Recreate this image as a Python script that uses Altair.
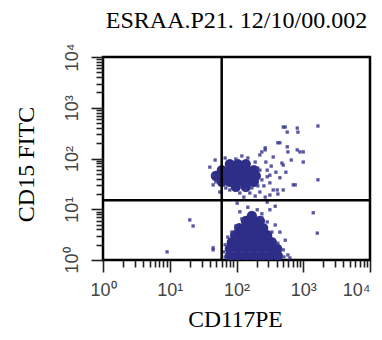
import altair as alt
import pandas as pd
import numpy as np

title_text = "ESRAA.P21. 12/10/00.002"
x_title = "CD117PE"
y_title = "CD15 FITC"
decade_values = [1, 10, 100, 1000, 10000]
tick_labels = ["10⁰", "10¹", "10²", "10³", "10⁴"]
gate_x = 60
gate_y = 15

# dense cores of the two populations (log10 of intensity)
core_x_log = [
    1.90, 2.02, 2.14, 2.26, 2.38, 2.50, 2.62,
    1.90, 2.02, 2.14, 2.26, 2.38, 2.50, 2.61,
    1.93, 2.05, 2.17, 2.29, 2.41, 2.53,
    1.98, 2.10, 2.22, 2.34, 2.46,
    2.04, 2.16, 2.28, 2.40,
    2.14, 2.26, 2.35,
    2.23,
    1.90, 2.02, 2.14,
    1.78, 1.90, 2.02, 2.14, 2.26,
    1.69, 1.81, 1.93, 2.05, 2.17, 2.29,
    1.78, 1.90, 2.02, 2.14, 2.26,
    1.99, 2.14,
]
core_y_log = [
    0.08, 0.08, 0.08, 0.08, 0.08, 0.08, 0.08,
    0.22, 0.22, 0.22, 0.22, 0.22, 0.22, 0.22,
    0.35, 0.35, 0.35, 0.35, 0.35, 0.35,
    0.49, 0.49, 0.49, 0.49, 0.49,
    0.63, 0.63, 0.63, 0.63,
    0.77, 0.77, 0.77,
    0.87,
    1.89, 1.89, 1.89,
    1.77, 1.77, 1.77, 1.77, 1.77,
    1.66, 1.66, 1.66, 1.66, 1.66, 1.66,
    1.54, 1.54, 1.54, 1.54, 1.54,
    1.44, 1.44,
]

# sparse events (log10 of intensity)
event_x_log = [
    2.70, 2.76, 2.91, 3.22, 2.62, 2.76, 2.91, 3.00, 2.43, 2.35,
    2.55, 3.00, 2.70, 2.46, 2.50, 3.22, 2.85, 2.61, 2.70, 1.60,
    1.65, 1.90, 2.05, 2.20, 2.35, 2.50, 2.38, 2.43, 2.65, 2.77,
    2.95, 2.73, 2.92, 2.68, 2.35, 2.46, 2.50, 2.55, 1.65, 2.88,
    1.68, 1.83, 2.17, 2.28, 2.32, 2.38, 2.32, 1.69, 1.84, 2.13,
    2.23, 2.41, 1.99, 2.08, 2.44, 2.52, 2.59, 2.65, 2.74, 2.82,
    1.75, 2.28, 2.43, 2.62, 2.11,
    2.01, 2.31, 2.46, 2.50, 3.15, 3.21, 2.17, 2.38, 2.05, 2.58,
    2.46, 2.53, 2.62, 2.77, 1.65, 1.87, 1.83, 1.81, 2.70, 2.73,
    2.65, 2.58, 1.99, 2.08, 2.38, 2.80, 1.93, 2.71, 1.83,
    1.30, 1.35, 0.96, 1.65,
]
event_y_log = [
    2.62, 2.52, 2.60, 2.64, 2.31, 2.23, 2.17, 2.13, 2.17, 2.07,
    2.03, 1.93, 1.87, 1.77, 1.67, 1.58, 1.48, 1.38, 1.38, 1.83,
    1.67, 1.38, 1.32, 1.32, 1.34, 1.28, 2.13, 2.21, 2.31, 2.13,
    2.13, 2.62, 2.52, 1.91, 1.77, 1.64, 1.52, 1.38, 1.48, 1.48,
    1.97, 2.01, 2.01, 1.93, 1.81, 1.58, 1.46, 1.54, 1.42, 1.38,
    1.42, 1.46, 1.99, 2.05, 1.93, 1.85, 1.73, 1.62, 1.73, 1.97,
    1.34, 1.26, 1.24, 1.30, 1.24,
    1.12, 0.99, 1.14, 0.99, 0.93, 0.53, 1.04, 0.91, 0.95, 1.06,
    0.75, 0.55, 0.33, 0.10, 0.24, 0.45, 0.30, 0.16, 0.20, 0.39,
    0.55, 0.69, 0.67, 0.81, 0.83, 0.04, 0.55, 0.06, 0.06,
    0.79, 0.67, 0.16, 0.20,
]

core = pd.DataFrame({"x": 10 ** np.array(core_x_log), "y": 10 ** np.array(core_y_log)})
events = pd.DataFrame({"x": 10 ** np.array(event_x_log), "y": 10 ** np.array(event_y_log)})

tick_values = [m * d for d in decade_values[:-1] for m in range(1, 10)] + [decade_values[-1]]
label_expr = " : ".join(
    f"datum.value == {v} ? '{lab}'" for v, lab in zip(decade_values, tick_labels)
) + " : ''"
last_label_align = {
    "condition": {"test": f"datum.value == {decade_values[-1]}", "value": "right"},
    "value": "center",
}
major_test = "indexof([" + ",".join(str(v) for v in decade_values) + "], datum.value) >= 0"
tick_size = {"condition": {"test": major_test, "value": 12}, "value": 7}

x_scale = alt.Scale(type="log", domain=[1, 10000], nice=False)
y_scale = alt.Scale(type="log", domain=[1, 10000], nice=False)

common_axis = dict(
    values=tick_values,
    labelExpr=label_expr,
    labelOverlap=False,
    labelFont="Liberation Sans",
    labelFontSize=18,
    labelColor="#444444",
    domain=False,
    grid=False,
    ticks=True,
    tickColor="#222222",
    tickWidth=1.6,
    tickSize=tick_size,
    titleFont="Liberation Serif",
    titleFontWeight="normal",
    titleColor="black",
)

x_axis = alt.Axis(
    orient="bottom",
    labelBaseline="top",
    labelAlign=last_label_align,
    labelPadding=9,
    labelFlush=False,
    title=x_title,
    titleFontSize=23.5,
    titleX=132,
    titleY=66,
    titleAlign="center",
    titleBaseline="alphabetic",
    **common_axis,
)
y_axis = alt.Axis(
    orient="left",
    labelAngle=270,
    labelAlign="center",
    labelBaseline="alphabetic",
    labelPadding=14,
    labelFlush=False,
    title=y_title,
    titleFontSize=24,
    titleAngle=270,
    titleX=-70,
    titleY=107,
    titleAlign="center",
    titleBaseline="alphabetic",
    **common_axis,
)

core_layer = alt.Chart(core).mark_circle(size=105, color="#2e2e88", opacity=1, clip=True).encode(
    x=alt.X("x:Q", scale=x_scale, axis=x_axis),
    y=alt.Y("y:Q", scale=y_scale, axis=y_axis),
)
event_layer = alt.Chart(events).mark_square(size=11, color="#3a3a92", opacity=0.85, clip=True).encode(
    x=alt.X("x:Q", scale=x_scale, axis=x_axis),
    y=alt.Y("y:Q", scale=y_scale, axis=y_axis),
)
vgate = alt.Chart(pd.DataFrame({"x": [gate_x]})).mark_rule(color="black", strokeWidth=2.5).encode(
    x=alt.X("x:Q", scale=x_scale, axis=x_axis)
)
hgate = alt.Chart(pd.DataFrame({"y": [gate_y]})).mark_rule(color="black", strokeWidth=2.5).encode(
    y=alt.Y("y:Q", scale=y_scale, axis=y_axis)
)

chart = (
    alt.layer(core_layer, event_layer, vgate, hgate)
    .properties(
        width=267,
        height=203,
        padding={"left": 95, "top": 49, "right": 4, "bottom": 72},
        autosize=alt.AutoSizeParams(type="none"),
        background="white",
        title=alt.TitleParams(
            text=title_text,
            font="Liberation Serif",
            fontSize=24,
            fontWeight="normal",
            color="black",
            anchor="middle",
            frame="group",
            baseline="bottom",
            offset=-14,
        ),
    )
    .configure_view(stroke="black", strokeWidth=2.5)
)

chart.save("out.html", embed_options={"renderer": "svg", "actions": False})
